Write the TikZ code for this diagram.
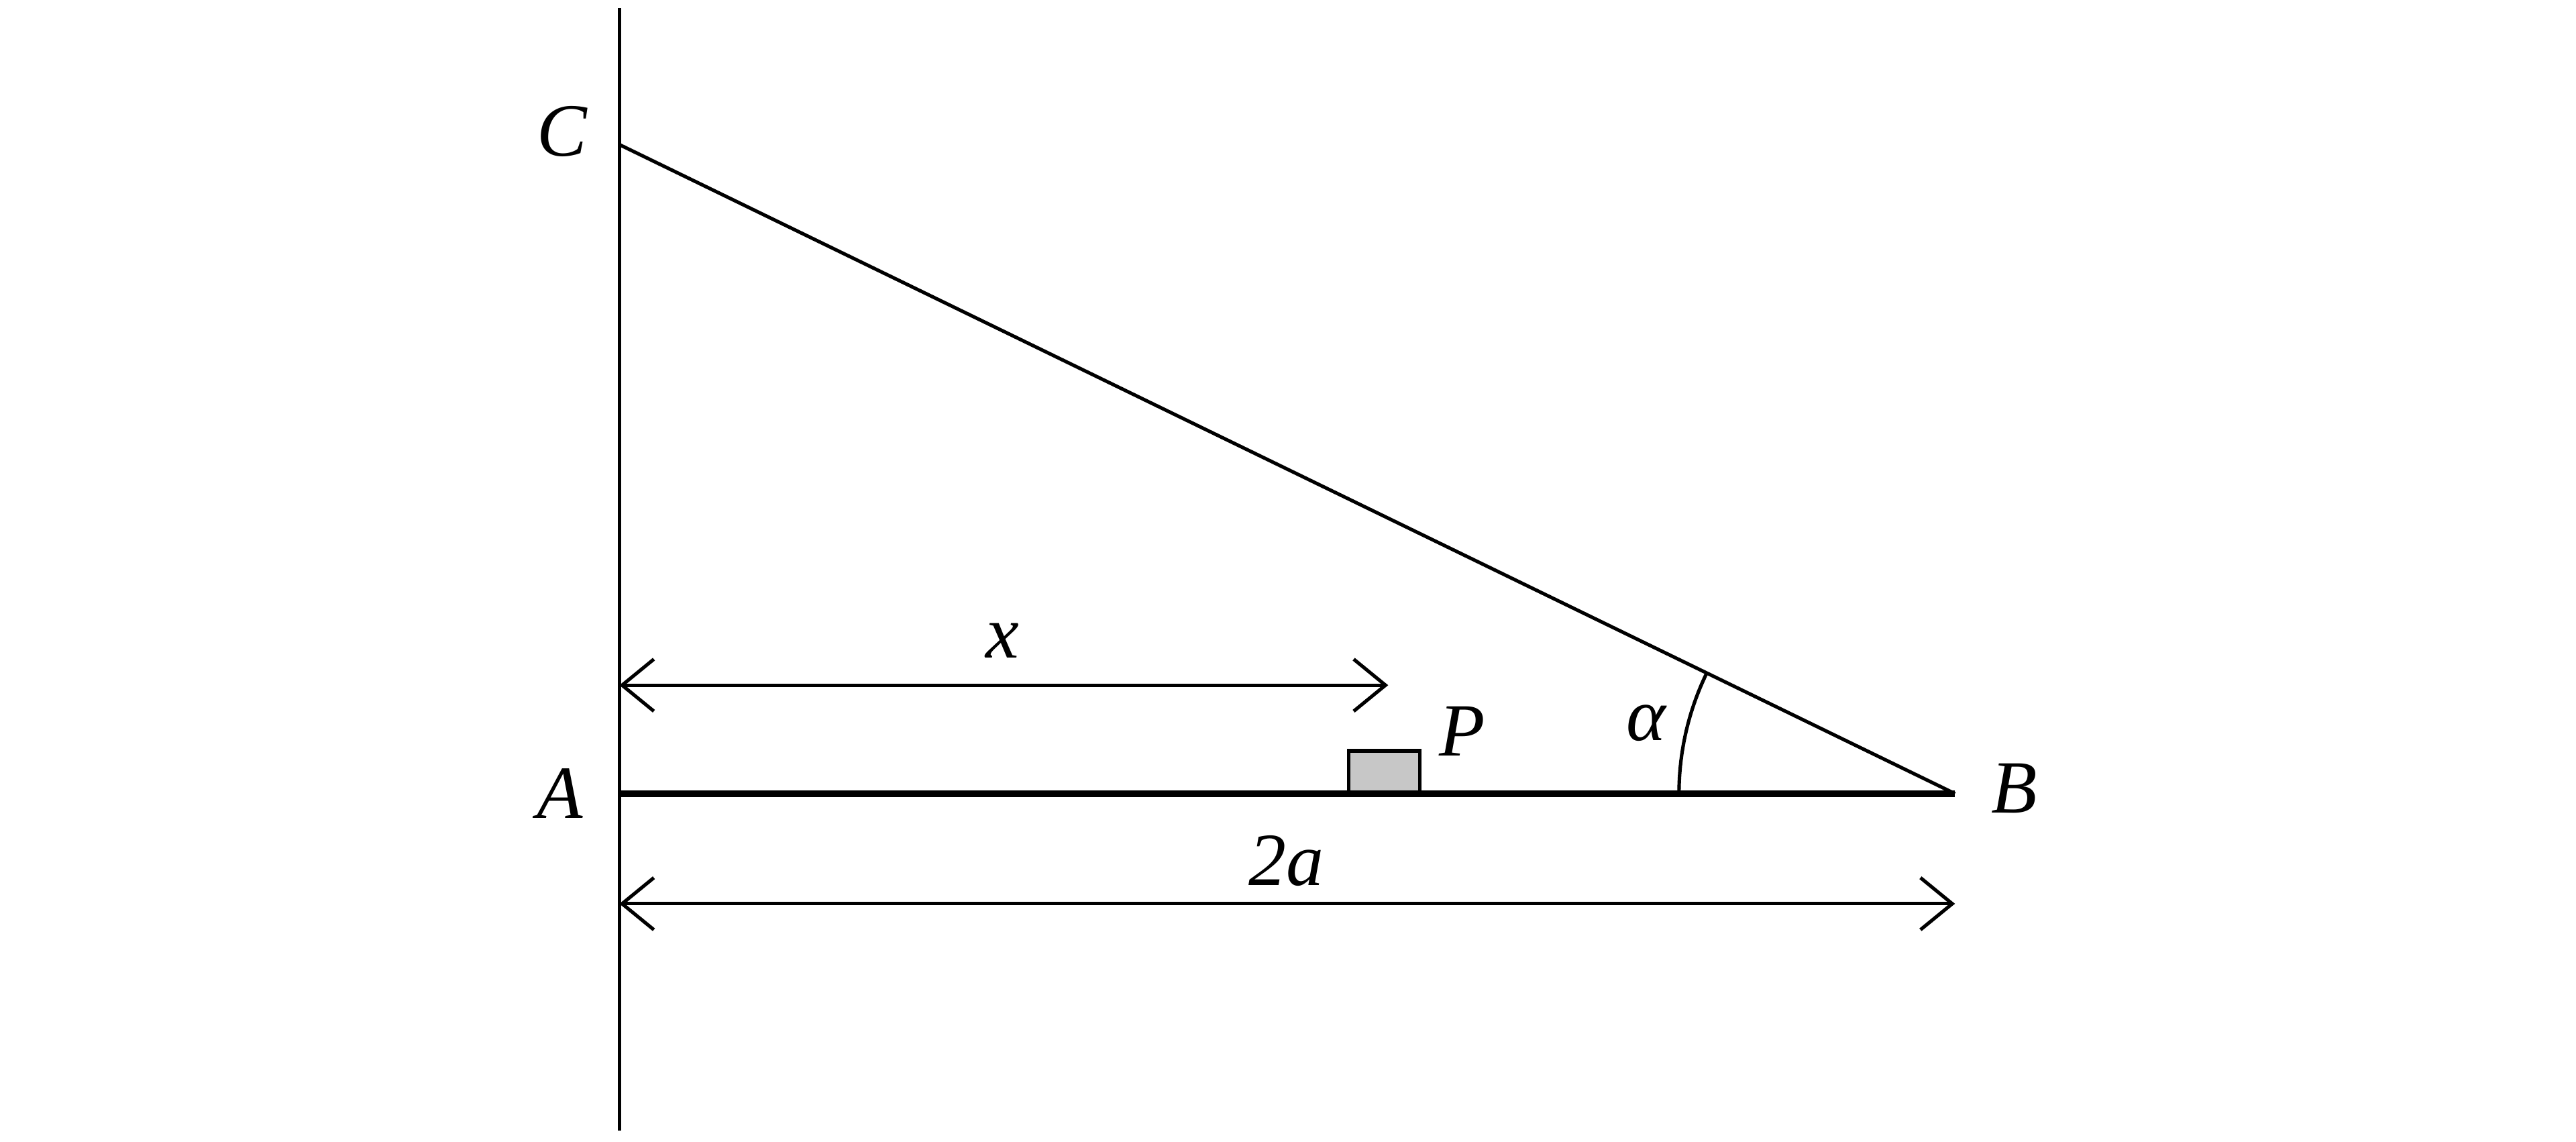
\documentclass[tikz,border=0pt]{standalone}
\usepackage{fontspec}
\setmainfont{Liberation Serif}
\usetikzlibrary{arrows.meta}
\begin{document}
\begin{tikzpicture}[x=0.01cm,y=-0.01cm,
  lbl/.style={font=\fontsize{13}{15}\selectfont\itshape},
  dim/.style={{Straight Barb[length=5.5pt,width=9pt]}-{Straight Barb[length=5.5pt,width=9pt]},line width=0.6pt},
  ln/.style={line width=0.6pt}]
\useasboundingbox (0,0) rectangle (1568,695);
\coordinate (top) at (377,5);
\coordinate (bot) at (377,688);
\coordinate (A) at (377,483);
\coordinate (B) at (1190,483);
\coordinate (C) at (377,88);
\draw[ln] (top) -- (bot);
\draw[ln] (C) -- (B);
\draw[line width=1.1pt] (A) -- (B);
\node[draw,fill=black!22,line width=0.6pt,inner sep=0pt,anchor=south west,minimum width=0.43cm,minimum height=0.25cm] (Pbox) at (820,483) {};
\node[lbl] (Pl) at (890,445) {P};
\node[lbl] (Al) at (341,483) {A};
\node[lbl] (Bl) at (1226,480) {B};
\node[lbl] (Cl) at (342,80) {C};
\coordinate (x1) at (377,417);
\coordinate (x2) at (845,417);
\draw[dim] (x1) -- (x2);
\node[lbl] (xl) at (610,390) {x};
\coordinate (d1) at (377,550);
\coordinate (d2) at (1190,550);
\draw[dim] (d1) -- (d2);
\node[lbl] (al2) at (783,524) {2a};
\draw[ln] (1022,483) arc[start angle=180,end angle=206.1,radius=168];
\node[lbl] (alpha) at (1002,440) {α};
\end{tikzpicture}
\end{document}
